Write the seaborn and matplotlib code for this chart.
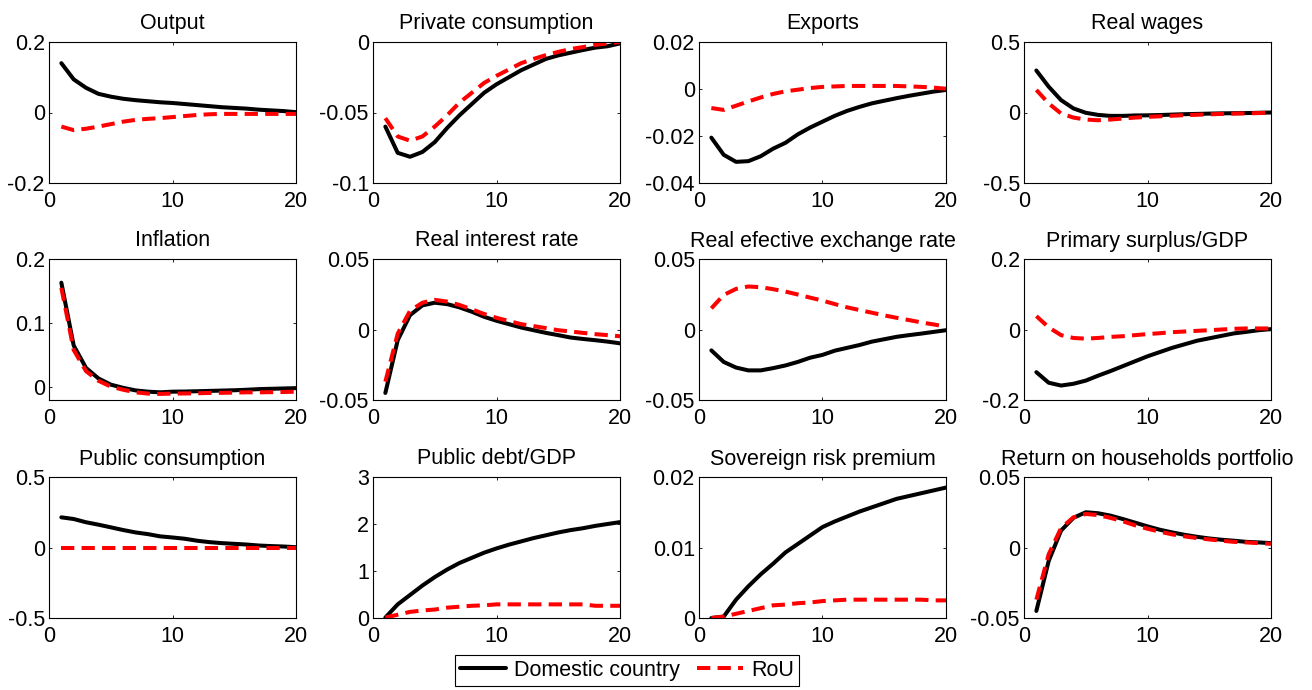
import matplotlib
matplotlib.use("Agg")
import matplotlib.pyplot as plt
import pandas as pd
import seaborn as sns

# Quarters after the shock
periods = list(range(1, 21))

series_names = ["Domestic country", "RoU"]

# Impulse responses: domestic country vs rest of the union
output_dom = [0.140, 0.094, 0.070, 0.053, 0.045, 0.039, 0.035, 0.032, 0.029, 0.027,
              0.024, 0.021, 0.018, 0.015, 0.013, 0.011, 0.008, 0.006, 0.004, 0.001]
output_rou = [-0.040, -0.050, -0.046, -0.040, -0.033, -0.026, -0.021, -0.018, -0.016, -0.013,
              -0.010, -0.007, -0.005, -0.004, -0.004, -0.004, -0.004, -0.004, -0.004, -0.004]

cons_dom = [-0.060, -0.0786, -0.0814, -0.078, -0.071, -0.061, -0.052, -0.044, -0.036, -0.030,
            -0.025, -0.020, -0.016, -0.012, -0.0095, -0.0076, -0.0057, -0.004, -0.003, -0.001]
cons_rou = [-0.054, -0.067, -0.070, -0.067, -0.060, -0.052, -0.043, -0.036, -0.029, -0.024,
            -0.0195, -0.015, -0.012, -0.0093, -0.007, -0.005, -0.0036, -0.002, -0.001, 0.0]

exports_dom = [-0.0207, -0.028, -0.031, -0.0307, -0.0286, -0.0254, -0.0229, -0.0193, -0.0164, -0.0139,
               -0.0114, -0.0093, -0.0076, -0.0061, -0.005, -0.0039, -0.0029, -0.002, -0.0011, -0.0004]
exports_rou = [-0.0081, -0.0089, -0.0071, -0.0053, -0.0036, -0.0021, -0.001, -0.0003, 0.0004, 0.0009,
               0.0011, 0.0013, 0.0013, 0.0013, 0.0013, 0.0013, 0.0011, 0.0009, 0.0006, 0.0001]

wages_dom = [0.298, 0.183, 0.088, 0.029, -0.002, -0.017, -0.024, -0.024, -0.021, -0.020,
             -0.018, -0.015, -0.012, -0.010, -0.008, -0.006, -0.005, -0.004, -0.002, 0.0]
wages_rou = [0.160, 0.064, -0.007, -0.036, -0.050, -0.055, -0.050, -0.043, -0.036, -0.031,
             -0.027, -0.023, -0.019, -0.016, -0.013, -0.010, -0.008, -0.006, -0.004, -0.002]

infl_dom = [0.163, 0.065, 0.030, 0.0137, 0.004, -0.001, -0.005, -0.007, -0.008, -0.007,
            -0.0068, -0.0063, -0.0058, -0.0053, -0.0048, -0.004, -0.003, -0.0025, -0.002, -0.0015]
infl_rou = [0.155, 0.058, 0.025, 0.010, 0.001, -0.004, -0.008, -0.010, -0.0105, -0.010,
            -0.0098, -0.0095, -0.009, -0.0088, -0.0085, -0.008, -0.008, -0.0078, -0.0075, -0.007]

rate_dom = [-0.045, -0.0076, 0.0102, 0.0171, 0.019, 0.018, 0.0157, 0.0126, 0.009, 0.0062,
            0.0038, 0.0014, -0.0005, -0.0024, -0.004, -0.0057, -0.0067, -0.0076, -0.0086, -0.0098]
rate_rou = [-0.037, -0.003, 0.0133, 0.019, 0.021, 0.0198, 0.0174, 0.0143, 0.011, 0.0083,
            0.006, 0.0038, 0.0024, 0.001, -0.0005, -0.0014, -0.0024, -0.0033, -0.004, -0.0048]

reer_dom = [-0.0148, -0.023, -0.027, -0.029, -0.029, -0.0274, -0.0255, -0.023, -0.020, -0.018,
            -0.015, -0.013, -0.011, -0.0086, -0.0069, -0.0052, -0.004, -0.0029, -0.0017, -0.0005]
reer_rou = [0.015, 0.0245, 0.0288, 0.0305, 0.030, 0.0286, 0.0269, 0.0248, 0.0226, 0.0205,
            0.018, 0.0157, 0.0138, 0.0119, 0.010, 0.0083, 0.0067, 0.005, 0.0036, 0.002]

surplus_dom = [-0.121, -0.151, -0.159, -0.154, -0.145, -0.131, -0.118, -0.104, -0.090, -0.076,
               -0.064, -0.052, -0.042, -0.032, -0.025, -0.018, -0.011, -0.0067, -0.002, 0.001]
surplus_rou = [0.038, 0.006, -0.016, -0.024, -0.026, -0.024, -0.021, -0.019, -0.016, -0.013,
               -0.0105, -0.0076, -0.0057, -0.0038, -0.002, 0.0, 0.002, 0.003, 0.003, 0.003]

gov_cons_dom = [0.214, 0.202, 0.179, 0.162, 0.143, 0.124, 0.107, 0.095, 0.079, 0.071,
                0.062, 0.048, 0.038, 0.031, 0.026, 0.021, 0.014, 0.010, 0.007, 0.002]
gov_cons_rou = [0.0] * 20

debt_dom = [0.01, 0.29, 0.49, 0.69, 0.87, 1.03, 1.17, 1.28, 1.39, 1.48,
            1.56, 1.63, 1.70, 1.76, 1.82, 1.87, 1.91, 1.96, 2.00, 2.04]
debt_rou = [0.01, 0.07, 0.13, 0.16, 0.18, 0.22, 0.24, 0.26, 0.27, 0.29,
            0.29, 0.29, 0.29, 0.29, 0.29, 0.29, 0.29, 0.26, 0.26, 0.26]

spread_dom = [0.0, 0.0002, 0.0026, 0.0045, 0.0062, 0.0077, 0.0093, 0.0105, 0.0117, 0.0129,
              0.0137, 0.0144, 0.0151, 0.0157, 0.0163, 0.0169, 0.0173, 0.0177, 0.0181, 0.0185]
spread_rou = [0.0, 0.0002, 0.0006, 0.001, 0.0014, 0.0018, 0.0019, 0.0021, 0.0022, 0.0024,
              0.0025, 0.0026, 0.0026, 0.0026, 0.0026, 0.0026, 0.0026, 0.0026, 0.0025, 0.0025]

ret_dom = [-0.045, -0.0095, 0.012, 0.021, 0.025, 0.0243, 0.0226, 0.0202, 0.0176, 0.015,
           0.0126, 0.0107, 0.009, 0.0076, 0.0064, 0.0055, 0.0048, 0.004, 0.0036, 0.0031]
ret_rou = [-0.037, -0.0048, 0.0138, 0.0214, 0.0238, 0.023, 0.021, 0.0186, 0.0157, 0.0133,
           0.0112, 0.0093, 0.0079, 0.0067, 0.0057, 0.0048, 0.004, 0.0036, 0.0031, 0.0026]

titles = ["Output", "Private consumption", "Exports", "Real wages",
          "Inflation", "Real interest rate", "Real efective exchange rate", "Primary surplus/GDP",
          "Public consumption", "Public debt/GDP", "Sovereign risk premium",
          "Return on households portfolio"]

domestic = [output_dom, cons_dom, exports_dom, wages_dom,
            infl_dom, rate_dom, reer_dom, surplus_dom,
            gov_cons_dom, debt_dom, spread_dom, ret_dom]
rest_of_union = [output_rou, cons_rou, exports_rou, wages_rou,
                 infl_rou, rate_rou, reer_rou, surplus_rou,
                 gov_cons_rou, debt_rou, spread_rou, ret_rou]

y_limits = [(-0.2, 0.2), (-0.1, 0.0), (-0.04, 0.02), (-0.5, 0.5),
            (-0.02, 0.2), (-0.05, 0.05), (-0.05, 0.05), (-0.2, 0.2),
            (-0.5, 0.5), (0, 3), (0, 0.02), (-0.05, 0.05)]
y_ticks = [[-0.2, 0, 0.2], [-0.1, -0.05, 0], [-0.04, -0.02, 0, 0.02], [-0.5, 0, 0.5],
           [0, 0.1, 0.2], [-0.05, 0, 0.05], [-0.05, 0, 0.05], [-0.2, 0, 0.2],
           [-0.5, 0, 0.5], [0, 1, 2, 3], [0, 0.01, 0.02], [-0.05, 0, 0.05]]
x_ticks = [0, 10, 20]

# ---- style ----
sns.set_theme(style="white")
plt.rcParams.update({
    "axes.edgecolor": "black",
    "axes.linewidth": 0.8,
    "axes.unicode_minus": False,
    "xtick.direction": "in",
    "ytick.direction": "in",
    "xtick.top": True,
    "ytick.right": True,
    "xtick.bottom": True,
    "ytick.left": True,
    "xtick.major.size": 2.5,
    "ytick.major.size": 2.5,
    "xtick.major.width": 0.6,
    "ytick.major.width": 0.6,
    "xtick.color": "black",
    "ytick.color": "black",
    "xtick.major.pad": 5.5,
    "ytick.major.pad": 3,
    "text.color": "black",
})
plt.rcParams["font.family"] = ["Liberation Sans", "DejaVu Sans"]

FS = 15.5
W, H = 1312, 690
fig = plt.figure(figsize=(W / 100, H / 100), dpi=100)
fig.patch.set_facecolor("white")

col_left = [49, 373, 699, 1024]
row_top = [42, 259, 477]
ax_w, ax_h = 247, 141

palette = {"Domestic country": "black", "RoU": "red"}
dash_styles = {"Domestic country": "", "RoU": (3.3, 1.8)}

axes = []
for i, title in enumerate(titles):
    r, c = divmod(i, 4)
    left, top = col_left[c], row_top[r]
    ax = fig.add_axes([left / W, 1 - (top + ax_h) / H, ax_w / W, ax_h / H])
    df = pd.DataFrame({
        "period": periods + periods,
        "value": list(domestic[i]) + list(rest_of_union[i]),
        "country": [series_names[0]] * len(periods) + [series_names[1]] * len(periods),
    })
    sns.lineplot(data=df, x="period", y="value", hue="country", style="country",
                 hue_order=series_names, style_order=series_names,
                 palette=palette, dashes=dash_styles, linewidth=2.9,
                 errorbar=None, legend=False, ax=ax)
    ax.set_xlim(0, 20)
    ax.set_ylim(*y_limits[i])
    ax.set_xticks(x_ticks)
    ax.set_xticklabels([f"{t:g}" for t in x_ticks], fontsize=FS)
    ax.set_yticks(y_ticks[i])
    ax.set_yticklabels([f"{t:g}" for t in y_ticks[i]], fontsize=FS)
    ax.set_xlabel("")
    ax.set_ylabel("")
    ax.set_title(title, fontsize=FS, pad=9)
    for s in ax.spines.values():
        s.set_visible(True)
        s.set_color("black")
        s.set_linewidth(0.8)
    axes.append(ax)

handles = axes[0].get_lines()[:2]
leg = fig.legend(handles, series_names, loc="center", ncol=2,
                 bbox_to_anchor=(627 / W, 1 - 670.5 / H), fontsize=FS,
                 frameon=True, fancybox=False, framealpha=1, edgecolor="black",
                 handlelength=2.15, handletextpad=0.35, columnspacing=0.8,
                 borderpad=0.25, borderaxespad=0)
leg.get_frame().set_linewidth(0.8)

fig.savefig("out.png", dpi=100, facecolor="white")
